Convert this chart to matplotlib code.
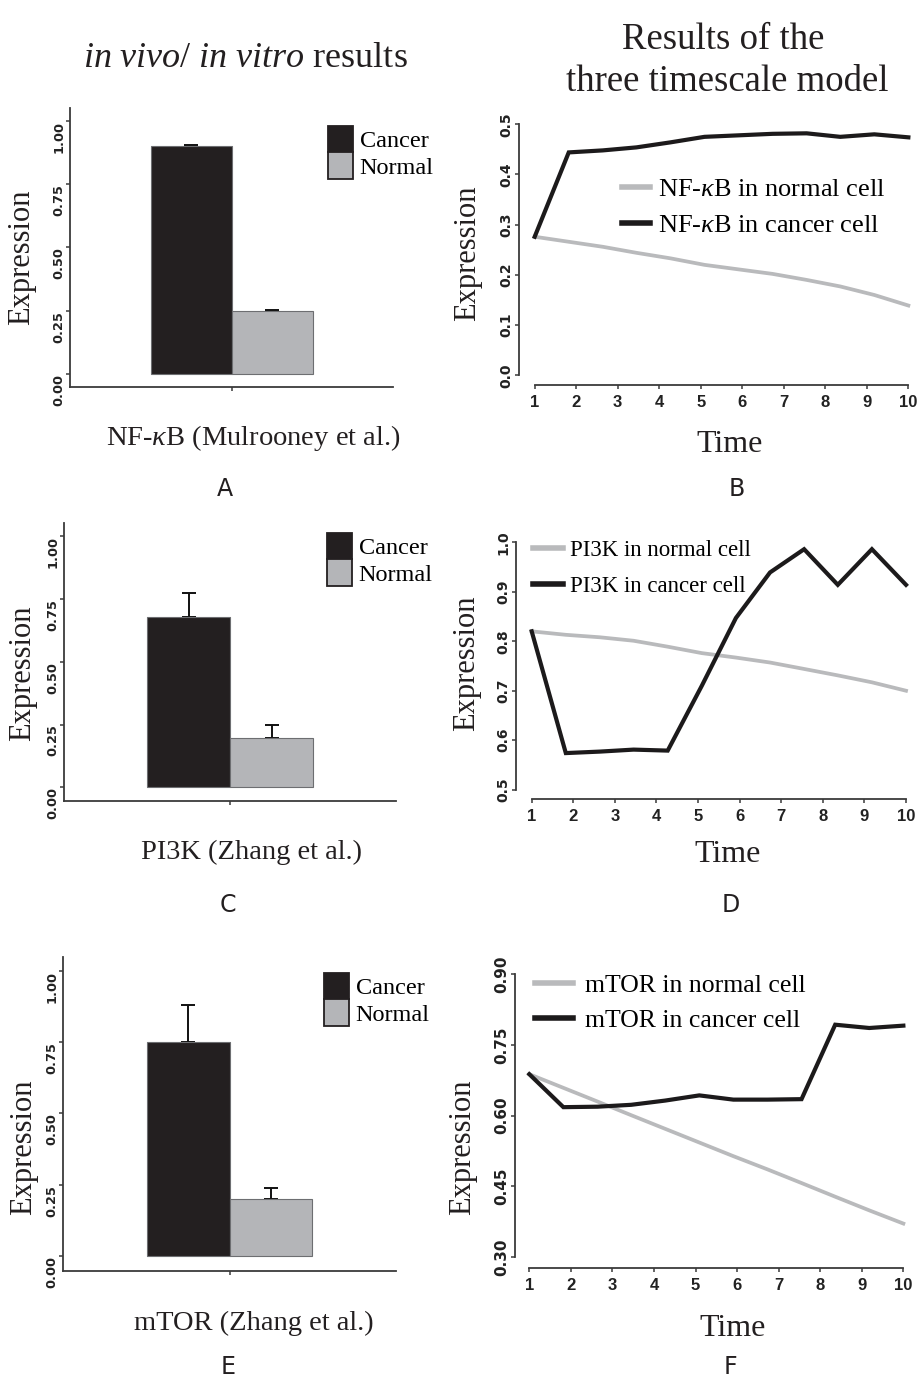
import matplotlib
matplotlib.use('Agg')
import matplotlib.pyplot as plt
from matplotlib.patches import Patch
from matplotlib.lines import Line2D

plt.rcParams['mathtext.fontset'] = 'custom'
plt.rcParams['mathtext.rm'] = 'Liberation Serif'
plt.rcParams['mathtext.it'] = 'Liberation Serif:italic'
plt.rcParams['mathtext.bf'] = 'Liberation Serif:bold'

# ---------------- data ----------------
groups = ['Cancer', 'Normal']
nfkb_bar = [0.90, 0.25]
nfkb_err = [0.005, 0.003]
pi3k_bar = [0.68, 0.198]
pi3k_err = [0.095, 0.05]
mtor_bar = [0.751, 0.20]
mtor_err = [0.131, 0.039]
bar_yticks = [0.0, 0.25, 0.5, 0.75, 1.0]
bar_yticklabels = ['0.00', '0.25', '0.50', '0.75', '1.00']

time_points = [1, 1.82, 2.64, 3.45, 4.27, 5.09, 5.91, 6.73, 7.55, 8.36, 9.18, 10]
time_ticks = [1, 2, 3, 4, 5, 6, 7, 8, 9, 10]
nfkb_normal = [0.276, 0.266, 0.256, 0.244, 0.233, 0.220, 0.211, 0.202, 0.190, 0.177, 0.160, 0.139]
nfkb_cancer = [0.276, 0.444, 0.448, 0.454, 0.464, 0.475, 0.478, 0.481, 0.482, 0.475, 0.480, 0.474]
pi3k_normal = [0.820, 0.813, 0.808, 0.801, 0.789, 0.776, 0.767, 0.757, 0.744, 0.731, 0.717, 0.700]
pi3k_cancer = [0.820, 0.574, 0.577, 0.581, 0.579, 0.710, 0.847, 0.939, 0.986, 0.914, 0.986, 0.914]
mtor_normal = [0.688, 0.659, 0.630, 0.601, 0.572, 0.543, 0.514, 0.486, 0.457, 0.428, 0.399, 0.371]
mtor_cancer = [0.688, 0.618, 0.619, 0.623, 0.632, 0.643, 0.634, 0.634, 0.635, 0.793, 0.786, 0.791]
nfkb_yticks = [0.0, 0.1, 0.2, 0.3, 0.4, 0.5]
nfkb_yticklabels = ['0.0', '0.1', '0.2', '0.3', '0.4', '0.5']
pi3k_yticks = [0.5, 0.6, 0.7, 0.8, 0.9, 1.0]
pi3k_yticklabels = ['0.5', '0.6', '0.7', '0.8', '0.9', '1.0']
mtor_yticks = [0.30, 0.45, 0.60, 0.75, 0.90]
mtor_yticklabels = ['0.30', '0.45', '0.60', '0.75', '0.90']

# ---------------- style ----------------
W, H = 917, 1379
SERIF = 'Liberation Serif'
CANCER_C = '#231f20'
NORMAL_C = '#b4b5b8'
LINE_BLACK = '#1c1a1b'
LINE_GRAY = '#b9babc'
SPINE_C = '#3a3a3a'

fig = plt.figure(figsize=(W / 100, H / 100), dpi=100)
fig.patch.set_facecolor('white')


def px_ax(l, r, t, b):
    return fig.add_axes([l / W, 1 - b / H, (r - l) / W, (b - t) / H])


def fx(x):
    return x / W


def fy(y):
    return 1 - y / H


def style_spines(ax):
    for s in ['top', 'right']:
        ax.spines[s].set_visible(False)
    for s in ['left', 'bottom']:
        ax.spines[s].set_color(SPINE_C)
        ax.spines[s].set_linewidth(1.3)
    ax.tick_params(colors=SPINE_C, length=3, width=1.1)


def bar_panel(rect, ylim, xlim, values, errs, legend_xy, xlabel, xlabel_xy, ylabel_xy, letter, letter_xy):
    ax = px_ax(*rect)
    style_spines(ax)
    xs = [-0.5, 0.5]
    colors = [CANCER_C, NORMAL_C]
    ax.bar(xs, values, width=1.0, color=colors, edgecolor='#6d6e71', linewidth=0.8, zorder=2)
    ax.errorbar(xs, values, yerr=[[0, 0], errs], fmt='none', ecolor='#111111',
                elinewidth=1.4, capsize=5, capthick=1.4, zorder=1)
    ax.set_xlim(*xlim)
    ax.set_ylim(*ylim)
    ax.set_xticks([0])
    ax.set_xticklabels([''])
    ax.set_yticks(bar_yticks)
    ax.set_yticklabels(bar_yticklabels, rotation=90, va='top', fontsize=9.3,
                       fontweight='bold', family='DejaVu Sans', color='#222222')
    ax.tick_params(axis='y', pad=0.5)
    handles = [Patch(facecolor=c, edgecolor='#231f20', linewidth=1.3) for c in colors]
    ax.legend(handles, groups, loc='upper left', bbox_to_anchor=(fx(legend_xy[0]), fy(legend_xy[1])),
              bbox_transform=fig.transFigure, frameon=False, borderpad=0, borderaxespad=0,
              handlelength=1.02, handleheight=1.3, labelspacing=0.0, handletextpad=0.28,
              prop={'family': SERIF, 'size': 17.5})
    fig.text(fx(xlabel_xy[0]), fy(xlabel_xy[1]), xlabel, ha='center', va='center',
             family=SERIF, fontsize=20.5, color='#231f20')
    fig.text(fx(ylabel_xy[0]), fy(ylabel_xy[1]), 'Expression', rotation=90, ha='center',
             va='center', family=SERIF, fontsize=22, color='#231f20')
    fig.text(fx(letter_xy[0]), fy(letter_xy[1]), letter, ha='center', va='center',
             family='DejaVu Sans', fontsize=17, color='#231f20')
    return ax


def line_panel(rect, xlim, ylim, ybounds, normal, cancer, yticks, ylabels, ytick_fs,
               labels, legend_xy, leg_fs, leg_hl, leg_pad, leg_sp,
               time_xy, ylabel_xy, letter, letter_xy):
    ax = px_ax(*rect)
    style_spines(ax)
    ax.plot(time_points, normal, color=LINE_GRAY, lw=2.7, solid_joinstyle='miter', zorder=2)
    ax.plot(time_points, cancer, color=LINE_BLACK, lw=3.0, solid_joinstyle='miter', zorder=3)
    ax.set_xlim(*xlim)
    ax.set_ylim(*ylim)
    ax.spines['left'].set_bounds(*ybounds)
    ax.spines['bottom'].set_bounds(1, 10)
    ax.set_xticks(time_ticks)
    ax.set_xticklabels([str(t) for t in time_ticks], fontsize=12, fontweight='bold',
                       family='Liberation Sans', color='#222222')
    ax.set_yticks(yticks)
    ax.set_yticklabels(ylabels, rotation=90, va='center', fontsize=ytick_fs,
                       fontweight='bold', family='DejaVu Sans', color='#222222')
    ax.tick_params(axis='y', pad=1)
    ax.tick_params(axis='x', pad=4)
    handles = [Line2D([], [], color=LINE_GRAY, lw=4.0), Line2D([], [], color=LINE_BLACK, lw=4.0)]
    ax.legend(handles, labels, loc='upper left', bbox_to_anchor=(fx(legend_xy[0]), fy(legend_xy[1])),
              bbox_transform=fig.transFigure, frameon=False, borderpad=0, borderaxespad=0,
              handlelength=leg_hl, handletextpad=leg_pad, labelspacing=leg_sp,
              prop={'family': SERIF, 'size': leg_fs})
    fig.text(fx(time_xy[0]), fy(time_xy[1]), 'Time', ha='center', va='center',
             family=SERIF, fontsize=23, color='#231f20')
    fig.text(fx(ylabel_xy[0]), fy(ylabel_xy[1]), 'Expression', rotation=90, ha='center',
             va='center', family=SERIF, fontsize=22, color='#231f20')
    fig.text(fx(letter_xy[0]), fy(letter_xy[1]), letter, ha='center', va='center',
             family='DejaVu Sans', fontsize=17, color='#231f20')
    return ax


# ---------------- titles ----------------
fig.text(fx(245), fy(67), r'$\mathit{in\ vivo/\ in\ vitro}$ results', ha='center', va='baseline',
         family=SERIF, fontsize=26, color='#231f20')
fig.text(fx(723), fy(49), 'Results of the', ha='center', va='baseline',
         family=SERIF, fontsize=26.5, color='#231f20')
fig.text(fx(727), fy(91), 'three timescale model', ha='center', va='baseline',
         family=SERIF, fontsize=26.5, color='#231f20')

# ---------------- bar panels ----------------
bar_panel((70, 393, 108, 387), (-0.0513, 1.050), (-2.0, 1.99), nfkb_bar, nfkb_err,
          (328, 126), r'NF-$\kappa$B (Mulrooney et al.)', (253, 438), (22, 257), 'A', (225, 489))
bar_panel((64, 396, 523, 801), (-0.0545, 1.053), (-2.0, 2.0), pi3k_bar, pi3k_err,
          (327, 533), 'PI3K (Zhang et al.)', (251, 852), (23, 673), 'C', (228, 905))
bar_panel((63, 396, 957, 1271), (-0.0526, 1.049), (-2.01, 2.01), mtor_bar, mtor_err,
          (324, 973), 'mTOR (Zhang et al.)', (254, 1323), (24, 1147), 'E', (228, 1367))

# ---------------- line panels ----------------
line_panel((519, 915, 115, 385), (0.622, 10.16), (-0.0193, 0.5185), (0, 0.5),
           nfkb_normal, nfkb_cancer, nfkb_yticks, nfkb_yticklabels, 10,
           [r'NF-$\kappa$B in normal cell', r'NF-$\kappa$B in cancer cell'], (622, 178), 19, 1.06, 0.3, 0.46,
           (730, 445), (468, 253), 'B', (737, 489))
line_panel((516, 915, 530, 799), (0.6225, 10.216), (0.4812, 1.0248), (0.5, 1.0),
           pi3k_normal, pi3k_cancer, pi3k_yticks, pi3k_yticklabels, 10,
           ['PI3K in normal cell', 'PI3K in cancer cell'], (533, 540), 16.5, 1.3, 0.3, 0.67,
           (728, 855), (467, 663), 'D', (731, 905))
line_panel((515, 915, 960, 1268), (0.656, 10.28), (0.2767, 0.9303), (0.30, 0.90),
           mtor_normal, mtor_cancer, mtor_yticks, mtor_yticklabels, 11,
           ['mTOR in normal cell', 'mTOR in cancer cell'], (535, 974), 18.5, 1.48, 0.47, 0.46,
           (733, 1328), (463, 1147), 'F', (730, 1367))

fig.savefig('out.png', dpi=100, facecolor='white')
